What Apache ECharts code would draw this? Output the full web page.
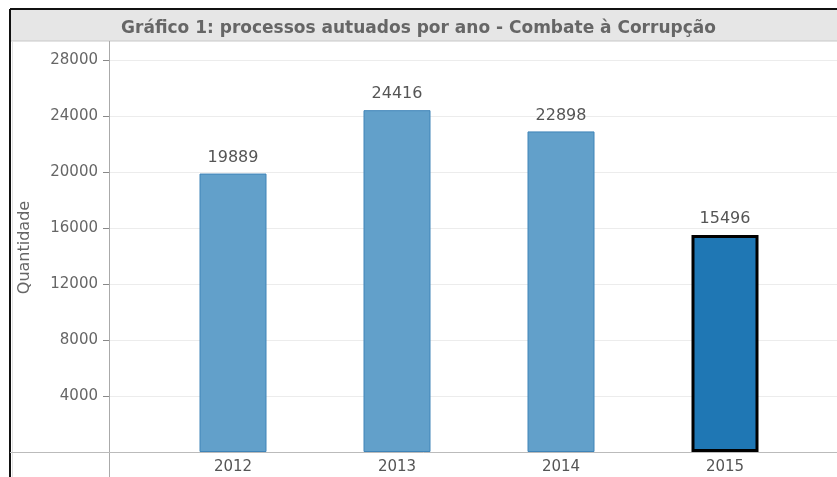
<!DOCTYPE html>
<html>
<head>
<meta charset="utf-8">
<script src="https://cdn.jsdelivr.net/npm/echarts@6/dist/echarts.min.js"></script>
<style>
  html, body { margin: 0; padding: 0; background: #fff; }
  #chart { width: 837px; height: 477px; }
</style>
</head>
<body>
<div id="chart"></div>
<script>
// Processos autuados por ano - Combate à Corrupção
const years = ['2012', '2013', '2014', '2015'];
const processos = [19889, 24416, 22898, 15496];
const highlightedYear = '2015';

const FONT = '"DejaVu Sans", Verdana, sans-serif';
const baseBlue = '#1f77b4';
const softBlue = '#62a0ca';

const barData = processos.map((v, i) => {
  const hot = years[i] === highlightedYear;
  return {
    value: v,
    itemStyle: hot
      ? { color: baseBlue, borderColor: '#000', borderWidth: 3 }
      : { color: softBlue, borderColor: '#3f84b8', borderWidth: 1 }
  };
});

const chart = echarts.init(document.getElementById('chart'), null, { renderer: 'canvas' });

chart.setOption({
  animation: false,
  backgroundColor: '#fff',
  title: {
    text: 'Gráfico 1: processos autuados por ano - Combate à Corrupção',
    left: 'center',
    top: 15,
    textStyle: { fontFamily: FONT, fontSize: 17, fontWeight: 'bold', color: '#666' }
  },
  graphic: [
    // title band and outer frame
    { type: 'rect', z: -1, shape: { x: 10, y: 9, width: 840, height: 32 },
      style: { fill: '#e6e6e6', stroke: '#c8c8c8', lineWidth: 1 } },
    { type: 'line', shape: { x1: 10, y1: 9, x2: 837, y2: 9 }, style: { stroke: '#111', lineWidth: 2 } },
    { type: 'line', shape: { x1: 10, y1: 9, x2: 10, y2: 477 }, style: { stroke: '#111', lineWidth: 2 } },
    { type: 'line', shape: { x1: 12.5, y1: 42, x2: 12.5, y2: 477 }, style: { stroke: '#e2e2e2', lineWidth: 1 } },
    // table-like rules: vertical axis rule and baseline rule
    { type: 'line', z: 10, shape: { x1: 109.5, y1: 41, x2: 109.5, y2: 477 }, style: { stroke: '#aaa', lineWidth: 1 } },
    { type: 'line', z: 10, shape: { x1: 10, y1: 452.5, x2: 837, y2: 452.5 }, style: { stroke: '#bbb', lineWidth: 1 } }
  ],
  grid: [
    { left: 109, top: 60, right: 0, bottom: 25, containLabel: false },
    { left: 151, top: 60, width: 656, bottom: 25, containLabel: false }
  ],
  xAxis: [
    { type: 'value', gridIndex: 0, show: false, min: 0, max: 1 },
    {
      type: 'category', gridIndex: 1, data: years,
      axisLine: { show: false }, axisTick: { show: false },
      axisLabel: { fontFamily: FONT, fontSize: 15, color: '#555', margin: 8 }
    }
  ],
  yAxis: [
    {
      type: 'value', gridIndex: 0, min: 0, max: 28000, interval: 4000,
      name: 'Quantidade', nameLocation: 'middle', nameGap: 76, nameRotate: 90,
      nameTextStyle: { fontFamily: FONT, fontSize: 16, color: '#666', padding: [0, 0, 0, 17] },
      axisLine: { show: false },
      axisTick: { show: true, length: 6, lineStyle: { color: '#888' } },
      axisLabel: {
        fontFamily: FONT, fontSize: 15, color: '#666', margin: 11,
        formatter: v => (v === 0 ? '' : String(v))
      },
      splitLine: { show: true, lineStyle: { color: '#ececec', width: 1 } }
    },
    { type: 'value', gridIndex: 1, min: 0, max: 28000, interval: 4000, show: false }
  ],
  series: [
    {
      type: 'bar', xAxisIndex: 1, yAxisIndex: 1,
      barWidth: 67,
      data: barData,
      label: {
        show: true, position: 'top', distance: 8,
        fontFamily: FONT, fontSize: 16, color: '#555'
      }
    }
  ]
});
</script>
</body>
</html>
